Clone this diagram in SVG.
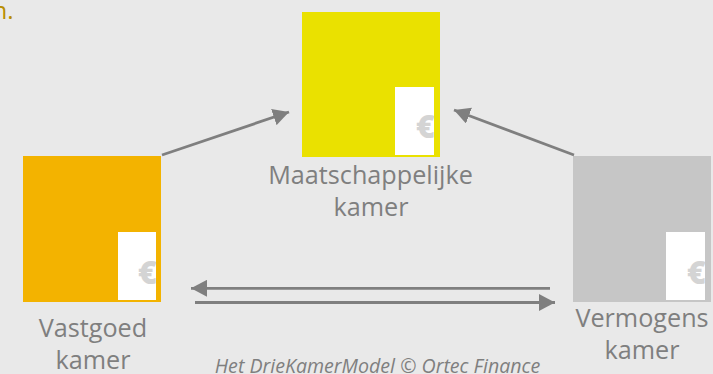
<svg xmlns="http://www.w3.org/2000/svg" width="713" height="374" viewBox="0 0 713 374">
<style>
text{font-family:"Open Sans","Noto Sans","Liberation Sans",sans-serif}
.lbl{font-size:25.200px;fill:#7f7f7f;text-anchor:middle}
.eur{font-size:32px;font-weight:800;fill:#d4d4d4}
.conn{stroke:#7f7f7f;stroke-width:2.800;fill:none}
.tip{fill:#7f7f7f}
.w{fill:#fff}
</style>
<defs>
<marker id="arr" markerUnits="userSpaceOnUse" markerWidth="17" markerHeight="17" refX="16" refY="8.500" orient="auto"><path class="tip" d="M0 0L16 8.500L0 17Z"/></marker>
<clipPath id="c1"><rect x="395" y="87" width="39" height="68"/></clipPath>
<clipPath id="c2"><rect x="118" y="232" width="38" height="68"/></clipPath>
<clipPath id="c3"><rect x="666" y="232" width="39" height="68"/></clipPath>
</defs>
<rect width="713" height="374" fill="#e9e9e9"/>
<text x="13.500" y="18.500" font-size="24" fill="#b98e00" text-anchor="end">n.</text>
<g id="maatschappelijke">
<rect x="302" y="12" width="138" height="145" fill="#eae100"/>
<rect class="w" x="395" y="87" width="39" height="68"/>
<text class="eur" x="416" y="138" clip-path="url(#c1)">€</text>
<text class="lbl" x="370.500" y="184">Maatschappelijke</text>
<text class="lbl" x="371" y="216">kamer</text>
</g>
<g id="vastgoed">
<rect x="23" y="156" width="138" height="146" fill="#f3b300"/>
<rect class="w" x="118" y="232" width="38" height="68"/>
<text class="eur" x="138" y="284" clip-path="url(#c2)">€</text>
<text class="lbl" x="93" y="337">Vastgoed</text>
<text class="lbl" x="93" y="369">kamer</text>
</g>
<g id="vermogens">
<rect x="573" y="156" width="138" height="146" fill="#c6c6c6"/>
<rect class="w" x="666" y="232" width="39" height="68"/>
<text class="eur" x="687" y="284" clip-path="url(#c3)">€</text>
<text class="lbl" x="642" y="327">Vermogens</text>
<text class="lbl" x="642" y="359">kamer</text>
</g>
<g id="connectors">
<line class="conn" marker-end="url(#arr)" x1="162" y1="155" x2="289" y2="112"/>
<line class="conn" marker-end="url(#arr)" x1="574" y1="155" x2="454" y2="110"/>
<line class="conn" marker-end="url(#arr)" x1="550" y1="288.300" x2="191" y2="288.300"/>
<line class="conn" marker-end="url(#arr)" x1="195" y1="302.500" x2="555" y2="302.500"/>
</g>
<text x="377.500" y="373" font-size="19.600" font-style="italic" fill="#7f7f7f" text-anchor="middle">Het DrieKamerModel © Ortec Finance</text>
</svg>
